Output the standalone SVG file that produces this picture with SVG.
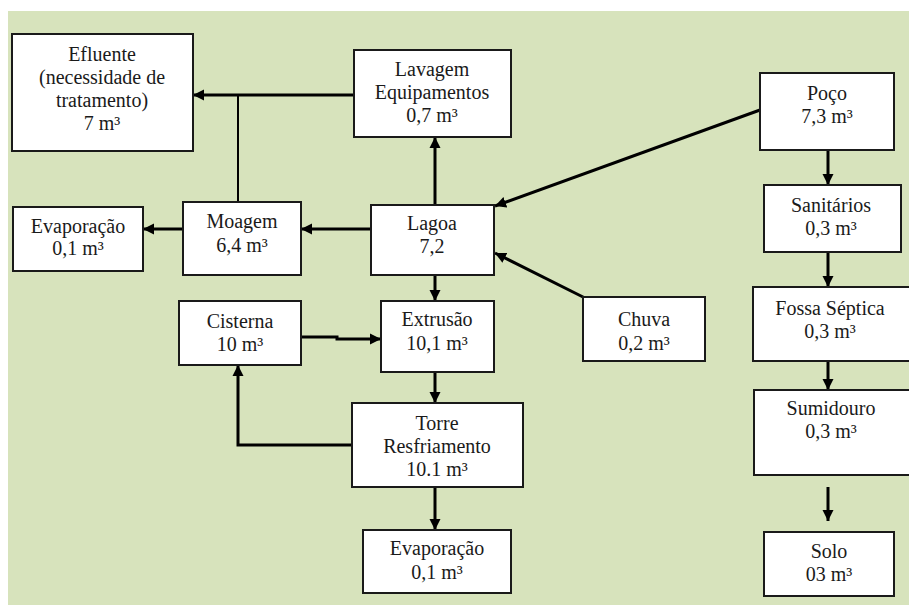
<svg xmlns="http://www.w3.org/2000/svg" width="909" height="605" viewBox="0 0 909 605">
<style>
.box{fill:#fff;stroke:#1a1a1a;stroke-width:2}
.t{font-family:"Liberation Serif","Times New Roman",serif;font-size:20px;fill:#1a1a1a;text-anchor:middle}
.c{fill:none;stroke:#000;stroke-width:3}
.a{marker-end:url(#ah)}
</style>
<defs>
<marker id="ah" markerUnits="userSpaceOnUse" markerWidth="12" markerHeight="12" refX="11" refY="6" orient="auto">
<path d="M0,0.5 L11,6 L0,11.5 z" fill="#000"/>
</marker>
</defs>
<rect x="8" y="11" width="901" height="594" fill="#d7e3bc"/>
<g id="connectors">
<line class="c a" x1="354" y1="95" x2="193" y2="95"/>
<line class="c" style="stroke-width:2" x1="238" y1="202" x2="238" y2="95"/>
<line class="c a" x1="435" y1="205" x2="435" y2="137"/>
<line class="c a" x1="760" y1="110" x2="495" y2="206"/>
<line class="c a" x1="371" y1="229" x2="301" y2="229"/>
<line class="c a" x1="183" y1="229" x2="143" y2="229"/>
<line class="c a" x1="435" y1="275" x2="435" y2="301"/>
<line class="c a" x1="585" y1="298" x2="495" y2="253"/>
<polyline class="c a" points="301,337 337,337 337,339 381,339"/>
<line class="c a" x1="435" y1="372" x2="435" y2="403"/>
<polyline class="c a" points="352,445 238,445 238,365"/>
<line class="c a" x1="435" y1="487" x2="435" y2="530"/>
<line class="c a" x1="828" y1="150" x2="828" y2="185"/>
<line class="c a" x1="828" y1="252" x2="828" y2="287"/>
<line class="c a" x1="828" y1="361" x2="828" y2="390"/>
<line class="c a" x1="828" y1="487" x2="828" y2="521"/>
</g>
<g id="efluente"><rect class="box" x="12" y="34" width="181" height="117"/>
<text class="t" x="102" y="61">Efluente</text><text class="t" x="102" y="84">(necessidade de</text><text class="t" x="102" y="107">tratamento)</text><text class="t" x="102" y="130">7 m³</text></g>
<g id="lavagem"><rect class="box" x="354" y="50" width="157" height="87"/>
<text class="t" x="432" y="76">Lavagem</text><text class="t" x="432" y="99">Equipamentos</text><text class="t" x="432" y="122">0,7 m³</text></g>
<g id="poco"><rect class="box" x="760" y="73" width="134" height="77"/>
<text class="t" x="827" y="100">Poço</text><text class="t" x="827" y="123">7,3 m³</text></g>
<g id="sanitarios"><rect class="box" x="764" y="185" width="137" height="67"/>
<text class="t" x="831" y="212">Sanitários</text><text class="t" x="831" y="235">0,3 m³</text></g>
<g id="fossa"><rect class="box" x="753" y="287" width="160" height="74"/>
<text class="t" x="830" y="315">Fossa Séptica</text><text class="t" x="830" y="338">0,3 m³</text></g>
<g id="sumidouro"><rect class="box" x="754" y="390" width="160" height="85"/>
<text class="t" x="831" y="415">Sumidouro</text><text class="t" x="831" y="438">0,3 m³</text></g>
<g id="solo"><rect class="box" x="764" y="532" width="130" height="64"/>
<text class="t" x="829" y="558">Solo</text><text class="t" x="829" y="581">03 m³</text></g>
<g id="evaporacao1"><rect class="box" x="13" y="207" width="130" height="64"/>
<text class="t" x="78" y="233">Evaporação</text><text class="t" x="78" y="255">0,1 m³</text></g>
<g id="moagem"><rect class="box" x="183" y="202" width="118" height="73"/>
<text class="t" x="242" y="228">Moagem</text><text class="t" x="242" y="252">6,4 m³</text></g>
<g id="cisterna"><rect class="box" x="179" y="301" width="122" height="64"/>
<text class="t" x="240" y="328">Cisterna</text><text class="t" x="240" y="351">10 m³</text></g>
<g id="lagoa"><rect class="box" x="371" y="205" width="123" height="70"/>
<text class="t" x="432" y="230">Lagoa</text><text class="t" x="432" y="253">7,2</text></g>
<g id="extrusao"><rect class="box" x="381" y="301" width="113" height="71"/>
<text class="t" x="437" y="326">Extrusão</text><text class="t" x="437" y="350">10,1 m³</text></g>
<g id="chuva"><rect class="box" x="583" y="297" width="122" height="64"/>
<text class="t" x="644" y="326">Chuva</text><text class="t" x="644" y="350">0,2 m³</text></g>
<g id="torre"><rect class="box" x="352" y="403" width="171" height="84"/>
<text class="t" x="437" y="430">Torre</text><text class="t" x="437" y="453">Resfriamento</text><text class="t" x="437" y="476">10.1 m³</text></g>
<g id="evaporacao2"><rect class="box" x="363" y="530" width="148" height="63"/>
<text class="t" x="437" y="555">Evaporação</text><text class="t" x="437" y="579">0,1 m³</text></g>
</svg>
